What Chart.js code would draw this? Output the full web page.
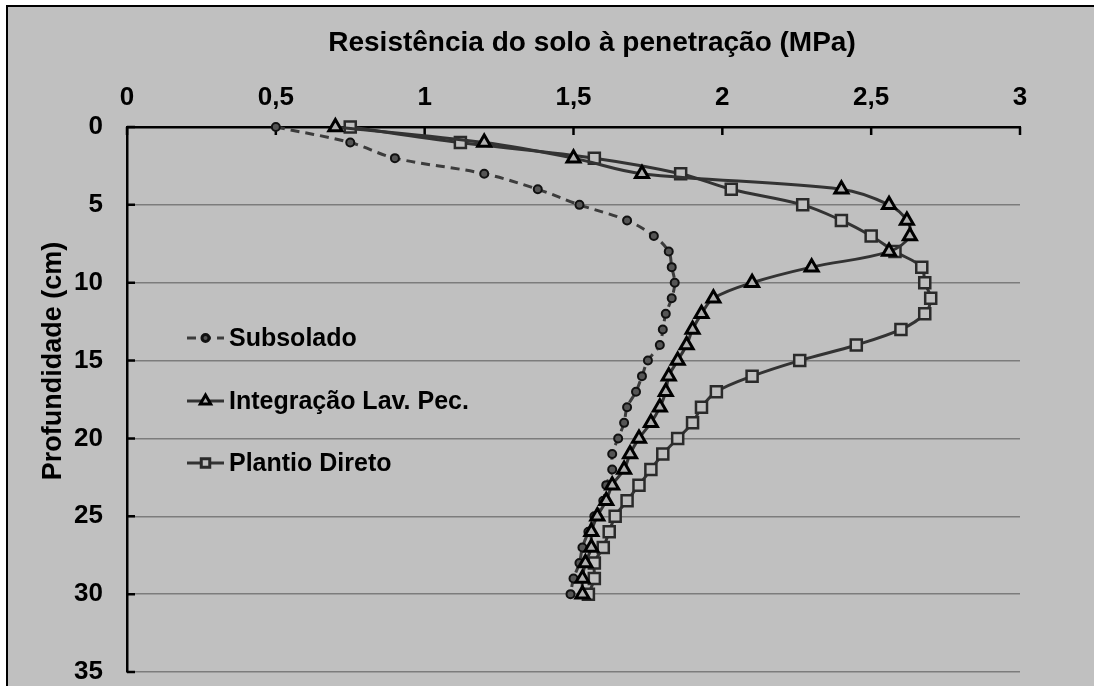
<!DOCTYPE html>
<html>
<head>
<meta charset="utf-8">
<script src="https://cdn.jsdelivr.net/npm/chart.js@4.4.1/dist/chart.umd.min.js"></script>
<style>
  html, body { margin: 0; padding: 0; background: #fff; }
  #wrap { width: 1094px; height: 686px; }
</style>
</head>
<body>
<div id="wrap"><canvas id="soilChart" width="1094" height="686"></canvas></div>
<script>
'use strict';

// ── Data ──
const profundidade = [0, 1, 2, 3, 4, 5, 6, 7, 8, 9, 10, 11, 12, 13, 14, 15,
  16, 17, 18, 19, 20, 21, 22, 23, 24, 25, 26, 27, 28, 29, 30];

const subsolado = [0.50, 0.75, 0.90, 1.20, 1.38, 1.52, 1.68, 1.77, 1.82, 1.83, 1.84,
  1.83, 1.81, 1.80, 1.79, 1.75, 1.73, 1.71, 1.68, 1.67, 1.65, 1.63, 1.63, 1.61, 1.60,
  1.57, 1.55, 1.53, 1.52, 1.50, 1.49];

const integracao = [0.70, 1.20, 1.50, 1.73, 2.40, 2.56, 2.62, 2.63, 2.56, 2.30, 2.10,
  1.97, 1.93, 1.90, 1.88, 1.85, 1.82, 1.81, 1.79, 1.76, 1.72, 1.69, 1.67, 1.63, 1.61,
  1.58, 1.56, 1.56, 1.54, 1.53, 1.53];

const plantio = [0.75, 1.12, 1.57, 1.86, 2.03, 2.27, 2.40, 2.50, 2.58, 2.67, 2.68,
  2.70, 2.68, 2.60, 2.45, 2.26, 2.10, 1.98, 1.93, 1.90, 1.85, 1.80, 1.76, 1.72, 1.68,
  1.64, 1.62, 1.60, 1.57, 1.57, 1.55];

const seriesNames = ['Subsolado', 'Integração Lav. Pec.', 'Plantio Direto'];
const xTicks = [0, 0.5, 1, 1.5, 2, 2.5, 3];
const yTicks = [0, 5, 10, 15, 20, 25, 30, 35];
const xTitle = 'Resistência do solo à penetração (MPa)';
const yTitle = 'Profundidade (cm)';

const FONT = "'Liberation Sans', Arial, sans-serif";
const BG = '#c0c0c0';

const toPoints = (vals) => vals.map((v, i) => ({ x: v, y: profundidade[i] }));

// ── Frame, inner ticks, titles and legend ──
const decor = {
  id: 'decor',
  beforeDraw(chart) {
    const { ctx, width, height } = chart;
    ctx.save();
    ctx.fillStyle = '#fff';
    ctx.fillRect(0, 0, width, height);
    ctx.fillStyle = BG;
    ctx.fillRect(7, 6, width - 7, height - 6);
    ctx.strokeStyle = '#000';
    ctx.lineWidth = 2;
    ctx.beginPath();
    ctx.moveTo(7, height);
    ctx.lineTo(7, 6);
    ctx.lineTo(width, 6);
    ctx.stroke();
    ctx.restore();
  },
  beforeDatasetsDraw(chart) {
    const { ctx, scales: { x, y } } = chart;
    ctx.save();
    ctx.strokeStyle = '#000';
    ctx.lineWidth = 2.5;
    ctx.beginPath();
    xTicks.forEach((v) => {
      const px = x.getPixelForValue(v);
      ctx.moveTo(px, y.top);
      ctx.lineTo(px, y.top + 8);
    });
    yTicks.forEach((v) => {
      const py = y.getPixelForValue(v);
      ctx.moveTo(x.left, py);
      ctx.lineTo(x.left + 8, py);
    });
    ctx.stroke();
    ctx.restore();
  },
  afterDraw(chart) {
    const { ctx } = chart;
    ctx.save();
    ctx.fillStyle = '#000';
    ctx.textAlign = 'center';
    ctx.textBaseline = 'middle';
    ctx.font = 'bold 28px ' + FONT;
    ctx.fillText(xTitle, 592, 43);

    ctx.font = 'bold 27px ' + FONT;
    ctx.translate(54, 361);
    ctx.rotate(-Math.PI / 2);
    ctx.fillText(yTitle, 0, 0);
    ctx.restore();

    // legend inside the plot
    const rows = [338, 401, 463];
    ctx.save();
    ctx.font = 'bold 25px ' + FONT;
    ctx.textAlign = 'left';
    ctx.textBaseline = 'middle';
    chart.data.datasets.forEach((ds, i) => {
      const yy = rows[i];
      ctx.strokeStyle = ds.borderColor;
      ctx.lineWidth = 3;
      ctx.setLineDash(ds.borderDash || []);
      ctx.beginPath();
      ctx.moveTo(187, yy);
      ctx.lineTo(224, yy);
      ctx.stroke();
      ctx.setLineDash([]);
      ctx.strokeStyle = ds.pointBorderColor;
      ctx.fillStyle = ds.pointBackgroundColor;
      Chart.helpers.drawPoint(ctx, {
        pointStyle: ds.pointStyle,
        rotation: 0,
        radius: ds.legendRadius,
        borderWidth: 2
      }, 205.5, yy);
      ctx.fillStyle = '#000';
      ctx.fillText(ds.label, 229, yy + 1);
    });
    ctx.restore();
  }
};

new Chart(document.getElementById('soilChart'), {
  type: 'scatter',
  data: {
    datasets: [
      {
        label: seriesNames[0],
        data: toPoints(subsolado),
        showLine: true,
        tension: 0.35,
        borderColor: '#3c3c3c',
        borderWidth: 3,
        borderDash: [9, 6],
        pointStyle: 'circle',
        pointRadius: 4,
        pointBorderWidth: 2,
        pointBorderColor: '#111',
        pointBackgroundColor: '#555',
        legendRadius: 3.5,
        clip: false,
        order: 3
      },
      {
        label: seriesNames[1],
        data: toPoints(integracao),
        showLine: true,
        tension: 0.35,
        borderColor: '#333',
        borderWidth: 3,
        pointStyle: 'triangle',
        pointRadius: 7.5,
        pointBorderWidth: 3,
        pointBorderColor: '#000',
        pointBackgroundColor: '#b0b0b0',
        legendRadius: 6,
        clip: false,
        order: 1
      },
      {
        label: seriesNames[2],
        data: toPoints(plantio),
        showLine: true,
        tension: 0.35,
        borderColor: '#333',
        borderWidth: 3,
        pointStyle: 'rect',
        pointRadius: 7.8,
        pointBorderWidth: 2.5,
        pointBorderColor: '#2a2a2a',
        pointBackgroundColor: BG,
        legendRadius: 6,
        clip: false,
        order: 2
      }
    ]
  },
  options: {
    responsive: false,
    animation: false,
    layout: { padding: { top: 0, left: 0, right: 74, bottom: 14 } },
    plugins: {
      legend: { display: false },
      title: { display: false },
      tooltip: { enabled: false }
    },
    scales: {
      x: {
        type: 'linear',
        position: 'top',
        min: 0, max: 3,
        afterBuildTicks: (s) => { s.ticks = xTicks.map((v) => ({ value: v })); },
        afterFit: (s) => { s.height = 127; },
        ticks: {
          padding: 14,
          color: '#000',
          font: { family: FONT, size: 26, weight: 'bold' },
          callback: (v) => String(v).replace('.', ',')
        },
        grid: { display: false, drawTicks: false },
        border: { color: '#000', width: 2.5 }
      },
      y: {
        type: 'linear',
        reverse: true,
        min: 0, max: 35,
        afterBuildTicks: (s) => { s.ticks = yTicks.map((v) => ({ value: v })); },
        afterFit: (s) => {
          s.width = 127;
          // keep the label padding from pushing the plot bottom up
          s.paddingTop = 0;
          s.paddingBottom = 0;
        },
        ticks: {
          padding: 24,
          color: '#000',
          font: { family: FONT, size: 26, weight: 'bold' }
        },
        grid: { color: '#7c7c7c', lineWidth: 1.5, drawTicks: false },
        border: { color: '#000', width: 2.5 }
      }
    }
  },
  plugins: [decor]
});
</script>
</body>
</html>
